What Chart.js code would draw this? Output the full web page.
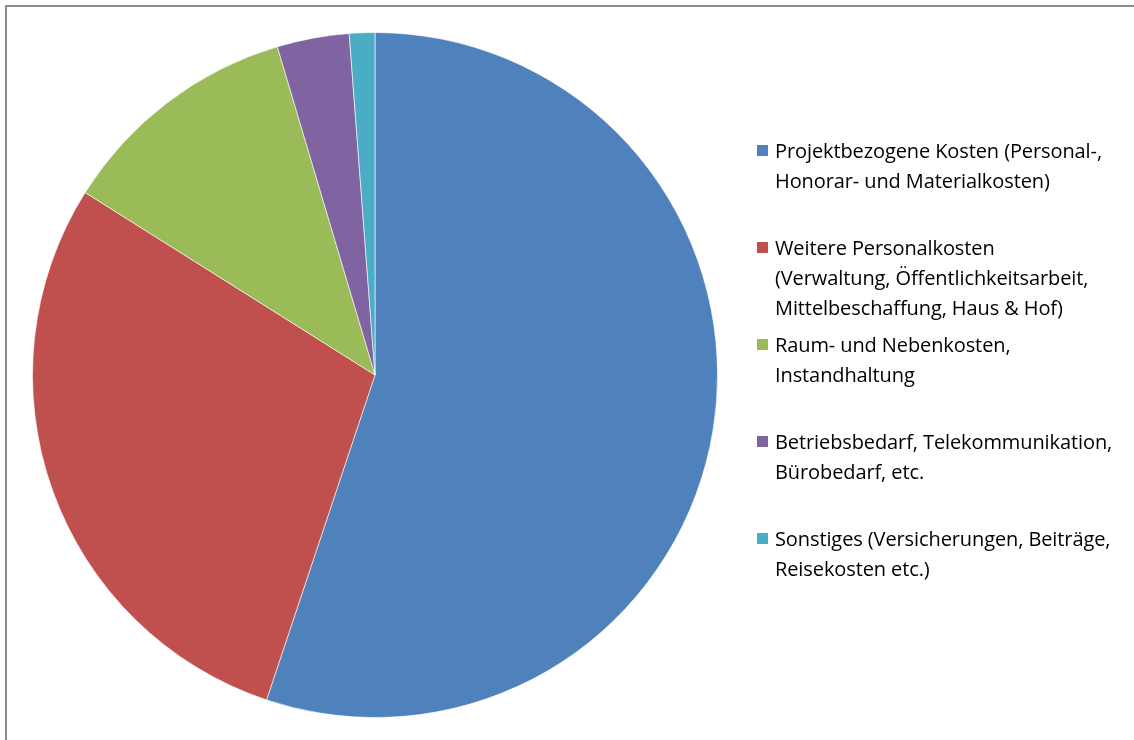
<!DOCTYPE html>
<html>
<head>
<meta charset="utf-8">
<script src="https://cdn.jsdelivr.net/npm/chart.js@4/dist/chart.umd.min.js"></script>
<style>
  html, body { margin: 0; padding: 0; background: #fff; }
  #wrap { position: relative; width: 1134px; height: 740px; overflow: hidden; }
  #frame { position: absolute; left: 5px; top: 5px; width: 1200px; height: 800px; border-left: 2px solid #8c8c8c; border-top: 2px solid #8c8c8c; box-sizing: border-box; }
  #chart { position: absolute; left: 0; top: 0; }
  #legend { position: absolute; left: 757px; top: 136px; font-family: "Open Sans", sans-serif; font-size: 20px; letter-spacing: -0.1px; color: #000; white-space: nowrap; }
  .item { position: relative; padding-left: 18px; line-height: 30px; margin-bottom: 37px; }
  .box { position: absolute; left: 0; top: 9px; width: 11px; height: 11px; }
</style>
</head>
<body>
<div id="wrap">
  <div id="frame"></div>
  <canvas id="chart" width="1134" height="740"></canvas>
  <div id="legend"></div>
</div>
<script>
const categories = [
  ['Projektbezogene Kosten (Personal-,', 'Honorar- und Materialkosten)'],
  ['Weitere Personalkosten', '(Verwaltung, Öffentlichkeitsarbeit,', 'Mittelbeschaffung, Haus & Hof)'],
  ['Raum- und Nebenkosten,', 'Instandhaltung'],
  ['Betriebsbedarf, Telekommunikation,', 'Bürobedarf, etc.'],
  ['Sonstiges (Versicherungen, Beiträge,', 'Reisekosten etc.)'],
];
const shares = [55.1, 28.8, 11.45, 3.4, 1.2];
const colors = ['#4F81BD', '#C0504D', '#9BBB59', '#8064A2', '#4BACC6'];

const chart = new Chart(document.getElementById('chart'), {
  type: 'pie',
  data: {
    labels: categories,
    datasets: [{
      data: shares,
      backgroundColor: colors,
      borderColor: 'rgba(255,255,255,0.6)',
      borderWidth: 1,
    }],
  },
  options: {
    responsive: false,
    animation: false,
    layout: { padding: { left: 32, top: 32, right: 416, bottom: 22 } },
    plugins: {
      legend: { display: false },
      tooltip: { enabled: false },
    },
  },
});

// legend built from the chart's own labels/colors
const legendEl = document.getElementById('legend');
legendEl.innerHTML = chart.data.labels.map((lines, i) => `
  <div class="item" style="${i === 1 ? 'margin-bottom:7px' : ''}">
    <span class="box" style="background:${colors[i]}"></span>
    ${lines.join('<br>')}
  </div>`).join('');
</script>
</body>
</html>
